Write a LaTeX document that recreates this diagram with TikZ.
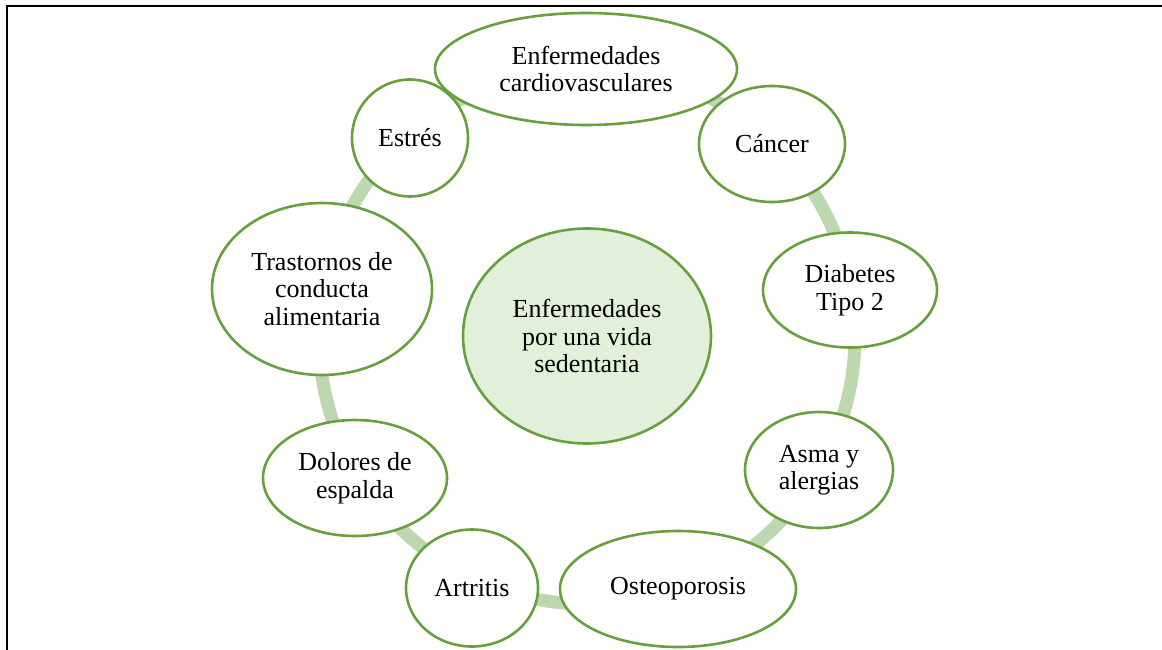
\documentclass[tikz,border=0pt]{standalone}
\usepackage{fontspec}
\setmainfont{Liberation Serif}
\usetikzlibrary{shapes.geometric}
\definecolor{ringgreen}{RGB}{189,215,176}
\definecolor{bordergreen}{RGB}{104,160,62}
\definecolor{centerfill}{RGB}{226,239,218}
\tikzset{
  item/.style={ellipse, draw=bordergreen, line width=2.6pt, fill=white, inner sep=0pt,
    align=center, font=\fontsize{26}{27.5}\selectfont},
  hub/.style={item, fill=centerfill},
  ring/.style={draw=ringgreen, line width=13pt},
  frame/.style={draw=black, line width=2.6pt}
}
\begin{document}
\begin{tikzpicture}[x=1pt,y=-1pt]
\useasboundingbox (0,0) rectangle (1162,650);
\fill[white] (0,0) rectangle (1162,650);
\coordinate (tl) at (7,6);
\coordinate (tr) at (1162,6);
\coordinate (bl) at (7,650);
\draw[frame] (bl) -- (tl) -- (tr);
\coordinate (o) at (587,336);
\draw[ring] (o) circle (268);
\node[hub, minimum width=248, minimum height=215] (hubnode) at (o) {Enfermedades\\por una vida\\sedentaria};
\node[item, minimum width=302, minimum height=112] (cardio) at (586,69) {Enfermedades\\cardiovasculares};
\node[item, minimum width=146, minimum height=116] (cancer) at (772,144) {Cáncer};
\node[item, minimum width=174, minimum height=115] (diab) at (850,290) {Diabetes\\Tipo 2};
\node[item, minimum width=148, minimum height=116] (asma) at (819,470) {Asma y\\alergias};
\node[item, minimum width=236, minimum height=116] (osteo) at (678,589) {Osteoporosis};
\node[item, minimum width=132, minimum height=117] (artr) at (472,588) {Artritis};
\node[item, minimum width=184, minimum height=116] (dolor) at (355,478) {Dolores de\\espalda};
\node[item, minimum width=220, minimum height=172] (trast) at (322,289) {Trastornos de\\conducta\\alimentaria};
\node[item, minimum width=116, minimum height=117] (estres) at (410,138) {Estrés};
\end{tikzpicture}
\end{document}
